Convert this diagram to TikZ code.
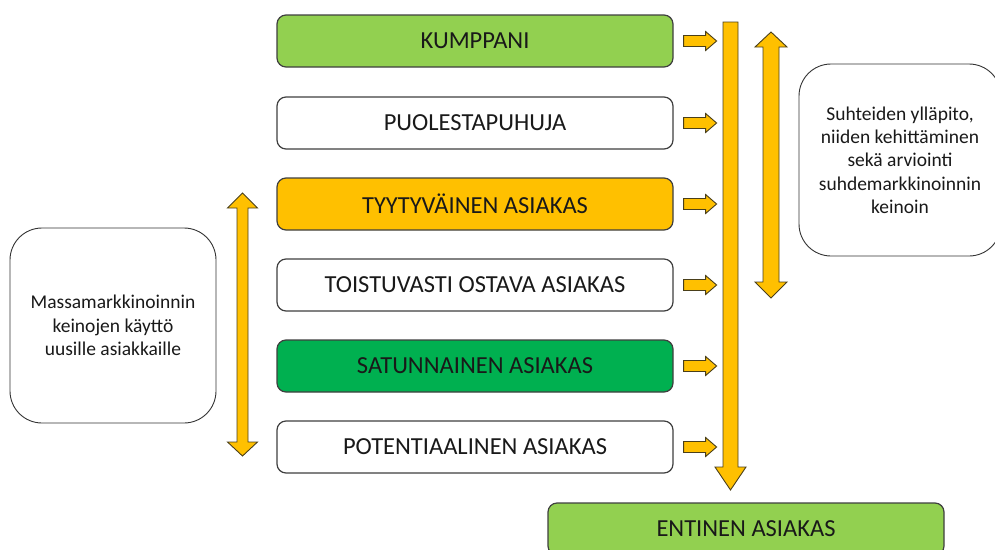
\documentclass[tikz,border=0pt]{standalone}
\usepackage{fontspec}
\setmainfont{Carlito}
\definecolor{lightgreen}{HTML}{92D050}
\definecolor{darkgreen}{HTML}{00B050}
\definecolor{amber}{HTML}{FFC000}
\definecolor{edge}{HTML}{3F3F3F}
\definecolor{arrowedge}{HTML}{4A3F1A}
\tikzset{
  stage/.style={draw=edge, line width=1.2pt, rounded corners=9pt, fill=white,
    minimum width=396pt, minimum height=52pt, inner sep=0pt,
    font=\fontsize{24.5}{29}\selectfont, text=black!90},
  sidebox/.style={draw=black!80, line width=0.9pt, rounded corners=32pt, fill=white,
    inner sep=0pt, align=center, font=\fontsize{19.5}{23.3}\selectfont, text=black!90},
  blockarrow/.style={fill=amber, draw=arrowedge, line width=0.9pt, line join=miter},
  smallright/.pic={
    \draw[blockarrow] (0,-5.5) -- (22,-5.5) -- (22,-9.5) -- (33,0) -- (22,9.5)
      -- (22,5.5) -- (0,5.5) -- cycle;
  }
}
\begin{document}
\begin{tikzpicture}[x=1pt, y=-1pt]
\useasboundingbox (0,0) rectangle (995,549);
\clip (0,0) rectangle (995,549);

% customer ladder
\node[stage, fill=lightgreen] (kumppani) at (475,41)  {KUMPPANI};
\node[stage]                  (puolesta) at (475,123) {PUOLESTAPUHUJA};
\node[stage, fill=amber]      (tyytyv)   at (475,204) {TYYTYVÄINEN ASIAKAS};
\node[stage]                  (toistuva) at (475,285) {TOISTUVASTI OSTAVA ASIAKAS};
\node[stage, fill=darkgreen]  (satunn)   at (475,366) {SATUNNAINEN ASIAKAS};
\node[stage]                  (potent)   at (475,447) {POTENTIAALINEN ASIAKAS};
\node[stage, fill=lightgreen] (entinen)  at (746,529) {ENTINEN ASIAKAS};

% side notes
\node[sidebox, minimum width=206pt, minimum height=195pt] (massa) at (113,325.5)
  {Massamarkkinoinnin\\keinojen käyttö\\uusille asiakkaille};
\node[sidebox, minimum width=202pt, minimum height=192pt] (suhde) at (900,160)
  {Suhteiden ylläpito,\\niiden kehittäminen\\sekä arviointi\\suhdemarkkinoinnin\\keinoin};

% small arrows leaving each stage
\foreach \s in {kumppani,puolesta,tyytyv,toistuva,satunn,potent}
  \pic at ([xshift=10pt]\s.east) {smallright};

% long arrow down to former customers
\draw[blockarrow] (723,22) -- (738,22) -- (738,467) -- (746,467) -- (730.5,490)
  -- (715,467) -- (723,467) -- cycle;

% double arrow beside the relationship stages
\draw[blockarrow] (771,32) -- (787,47) -- (779,47) -- (779,282) -- (787,282)
  -- (771,298) -- (755,282) -- (763,282) -- (763,47) -- (755,47) -- cycle;

% double arrow beside the new-customer stages
\draw[blockarrow] (242.5,193) -- (257.5,208) -- (248,208) -- (248,442) -- (257.5,442)
  -- (242.5,456) -- (227.5,442) -- (237,442) -- (237,208) -- (227.5,208) -- cycle;
\end{tikzpicture}
\end{document}
